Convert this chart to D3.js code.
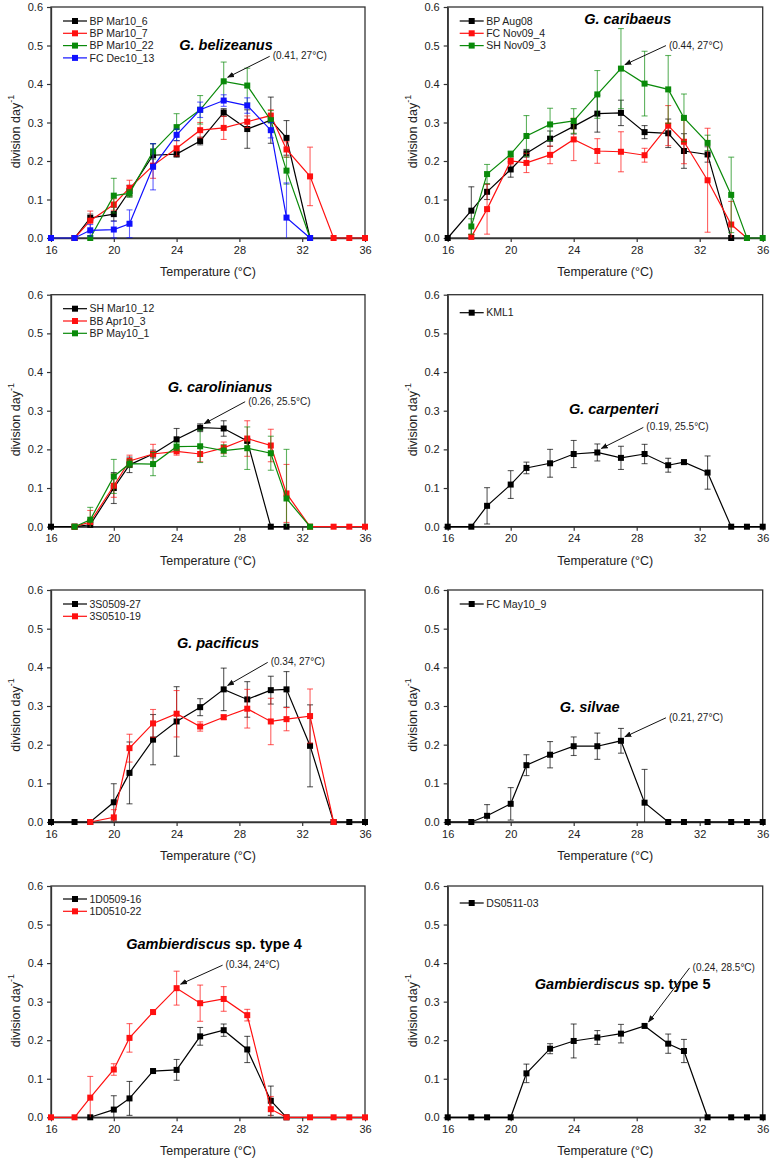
<!DOCTYPE html>
<html>
<head>
<meta charset="utf-8">
<script src="https://cdn.jsdelivr.net/npm/d3@7"></script>
<style>
  html, body { margin: 0; padding: 0; background: #fff; }
  svg { display: block; font-family: "Liberation Sans", Arial, sans-serif; }
</style>
</head>
<body>
<svg id="chart" width="771" height="1160"></svg>
<script>
// ---------- DATA ----------
const temps = [16, 17.5, 18.5, 20, 21, 22.5, 24, 25.5, 27, 28.5, 30, 31, 32.5, 34, 35, 36];
const xTicks = [16, 20, 24, 28, 32, 36];
const yTicks = [0, 0.1, 0.2, 0.3, 0.4, 0.5, 0.6];

// G. belizeanus
const bpMar10_6     = [null, 0, 0.052, 0.062, 0.122, 0.215, 0.218, 0.252, 0.326, 0.283, 0.306, 0.26, 0, null, null, null];
const bpMar10_6Err  = [null, 0, 0.01, 0.018, 0.015, 0.03, 0.008, 0.01, 0.01, 0.05, 0.06, 0.045, 0, null, null, null];
const bpMar10_7     = [null, 0, 0.045, 0.087, 0.13, 0.188, 0.233, 0.28, 0.286, 0.302, 0.318, 0.23, 0.16, 0, 0, 0];
const bpMar10_7Err  = [null, 0, 0.025, 0.015, 0.02, 0.033, 0.02, 0.02, 0.03, 0.015, 0.015, 0.02, 0.076, 0, 0, 0];
const bpMar10_22    = [null, null, 0, 0.11, 0.116, 0.225, 0.288, 0.333, 0.407, 0.396, 0.306, 0.175, 0, null, null, null];
const bpMar10_22Err = [null, null, 0, 0.045, 0.01, 0.02, 0.035, 0.037, 0.05, 0.045, 0.025, 0.035, 0, null, null, null];
const fcDec10_13    = [0, 0, 0.02, 0.022, 0.037, 0.185, 0.268, 0.333, 0.357, 0.344, 0.28, 0.053, 0, null, null, null];
const fcDec10_13Err = [0, 0, 0.015, 0.022, 0.036, 0.06, 0.015, 0.02, 0.015, 0.02, 0.02, 0.09, 0, null, null, null];

// G. caribaeus
const bpAug08       = [0, 0.071, 0.12, 0.178, 0.22, 0.258, 0.29, 0.323, 0.325, 0.275, 0.272, 0.226, 0.217, 0, null, null];
const bpAug08Err    = [0, 0.062, 0.02, 0.02, 0.01, 0.02, 0.02, 0.048, 0.033, 0.017, 0.037, 0.045, 0.02, 0, null, null];
const fcNov09_4     = [null, 0.003, 0.075, 0.2, 0.195, 0.216, 0.256, 0.226, 0.224, 0.215, 0.292, 0.25, 0.15, 0.035, 0, null];
const fcNov09_4Err  = [null, 0.003, 0.065, 0.01, 0.025, 0.023, 0.055, 0.032, 0.052, 0.018, 0.052, 0.057, 0.135, 0.06, 0, null];
const shNov09_3     = [null, 0.03, 0.166, 0.218, 0.265, 0.295, 0.304, 0.373, 0.44, 0.401, 0.386, 0.312, 0.247, 0.112, 0, 0];
const shNov09_3Err  = [null, 0.02, 0.025, 0.008, 0.053, 0.042, 0.032, 0.062, 0.104, 0.084, 0.088, 0.062, 0.02, 0.098, 0, 0];

// G. carolinianus
const shMar10_12    = [0, 0, 0.005, 0.1, 0.16, 0.188, 0.226, 0.256, 0.254, 0.222, 0, 0, null, null, null, null];
const shMar10_12Err = [0, 0, 0.01, 0.04, 0.02, 0.01, 0.028, 0.01, 0.02, 0.005, 0, 0, null, null, null, null];
const bbApr10_3     = [null, 0, 0.012, 0.106, 0.17, 0.188, 0.195, 0.188, 0.204, 0.228, 0.21, 0.086, 0, 0, 0, 0];
const bbApr10_3Err  = [null, 0, 0.03, 0.03, 0.015, 0.025, 0.01, 0.02, 0.015, 0.046, 0.042, 0.075, 0, 0, 0, 0];
const bpMay10_1     = [null, 0, 0.018, 0.13, 0.163, 0.162, 0.207, 0.208, 0.197, 0.203, 0.19, 0.073, 0, null, null, null];
const bpMay10_1Err  = [null, 0, 0.032, 0.044, 0.01, 0.03, 0.01, 0.042, 0.015, 0.055, 0.044, 0.127, 0, null, null, null];

// G. carpenteri
const kml1          = [0, 0, 0.054, 0.109, 0.152, 0.164, 0.188, 0.192, 0.178, 0.188, 0.159, 0.167, 0.14, 0, 0, 0];
const kml1Err       = [0, 0, 0.047, 0.036, 0.015, 0.036, 0.035, 0.022, 0.03, 0.025, 0.018, 0.005, 0.043, 0, 0, 0];

// G. pacificus
const s3S0509_27    = [0, 0, 0, 0.051, 0.127, 0.213, 0.26, 0.297, 0.343, 0.317, 0.341, 0.343, 0.197, 0, 0, 0];
const s3S0509_27Err = [0, 0, 0, 0.048, 0.08, 0.065, 0.09, 0.022, 0.055, 0.046, 0.036, 0.046, 0.106, 0, 0, 0];
const s3S0510_19    = [null, null, 0, 0.012, 0.191, 0.255, 0.28, 0.247, 0.271, 0.293, 0.26, 0.266, 0.274, 0, null, null];
const s3S0510_19Err = [null, null, 0, 0.02, 0.036, 0.036, 0.06, 0.012, 0.006, 0.05, 0.06, 0.03, 0.07, 0, null, null];

// G. silvae
const fcMay10_9     = [0, 0, 0.016, 0.047, 0.147, 0.174, 0.196, 0.196, 0.21, 0.05, 0, 0, 0, 0, 0, 0];
const fcMay10_9Err  = [0, 0, 0.029, 0.042, 0.027, 0.034, 0.024, 0.034, 0.032, 0.086, 0, 0, 0, 0, 0, 0];

// Gambierdiscus sp. type 4
const d1D0509_16    = [null, null, 0, 0.02, 0.049, 0.12, 0.123, 0.21, 0.226, 0.176, 0.043, 0, null, null, null, null];
const d1D0509_16Err = [null, null, 0, 0.036, 0.044, 0.005, 0.027, 0.023, 0.016, 0.034, 0.038, 0, null, null, null, null];
const d1D0510_22    = [0, 0, 0.051, 0.124, 0.206, 0.273, 0.335, 0.296, 0.307, 0.265, 0.021, 0, 0, 0, 0, 0];
const d1D0510_22Err = [0, 0, 0.055, 0.015, 0.037, 0.005, 0.044, 0.047, 0.032, 0.015, 0.033, 0, 0, 0, 0, 0];

// Gambierdiscus sp. type 5
const ds0511_03     = [0, 0, 0, 0, 0.114, 0.178, 0.198, 0.207, 0.217, 0.237, 0.191, 0.172, 0, 0, 0, 0];
const ds0511_03Err  = [0, 0, 0, 0, 0.024, 0.013, 0.044, 0.018, 0.024, 0.003, 0.025, 0.03, 0, 0, 0, 0];

// ---------- STYLE / LAYOUT ----------
const BLACK = "#000000", RED = "#ff1010", GREEN = "#0a8a0a", BLUE = "#1010ff";
const colX = [[51, 365], [447.7, 762.7]];
const rowY = [[7, 238], [294.7, 526.7], [590, 822], [886, 1117.3]];

const panels = [
  { row: 0, col: 0, title: [["G. belizeanus", "italic"]], tdx: 175, tdy: 43, legDy: 14,
    series: [
      { name: "BP Mar10_6", color: BLACK, v: bpMar10_6, e: bpMar10_6Err },
      { name: "BP Mar10_7", color: RED, v: bpMar10_7, e: bpMar10_7Err },
      { name: "BP Mar10_22", color: GREEN, v: bpMar10_22, e: bpMar10_22Err },
      { name: "FC Dec10_13", color: BLUE, v: fcDec10_13, e: fcDec10_13Err }],
    ann: { s: 2, t: 27, text: "(0.41, 27\u00B0C)", dx: 49, dy: -22 } },
  { row: 0, col: 1, title: [["G. caribaeus", "italic"]], tdx: 180, tdy: 17, legDy: 14,
    series: [
      { name: "BP Aug08", color: BLACK, v: bpAug08, e: bpAug08Err },
      { name: "FC Nov09_4", color: RED, v: fcNov09_4, e: fcNov09_4Err },
      { name: "SH Nov09_3", color: GREEN, v: shNov09_3, e: shNov09_3Err }],
    ann: { s: 2, t: 27, text: "(0.44, 27\u00B0C)", dx: 48, dy: -20 } },
  { row: 1, col: 0, title: [["G. carolinianus", "italic"]], tdx: 169, tdy: 97, legDy: 14,
    series: [
      { name: "SH Mar10_12", color: BLACK, v: shMar10_12, e: shMar10_12Err },
      { name: "BB Apr10_3", color: RED, v: bbApr10_3, e: bbApr10_3Err },
      { name: "BP May10_1", color: GREEN, v: bpMay10_1, e: bpMay10_1Err }],
    ann: { s: 0, t: 25.5, text: "(0.26, 25.5\u00B0C)", dx: 48, dy: -23 } },
  { row: 1, col: 1, title: [["G. carpenteri", "italic"]], tdx: 166, tdy: 119, legDy: 18,
    series: [
      { name: "KML1", color: BLACK, v: kml1, e: kml1Err }],
    ann: { s: 0, t: 25.5, text: "(0.19, 25.5\u00B0C)", dx: 49, dy: -22 } },
  { row: 2, col: 0, title: [["G. pacificus", "italic"]], tdx: 167, tdy: 58, legDy: 14,
    series: [
      { name: "3S0509-27", color: BLACK, v: s3S0509_27, e: s3S0509_27Err },
      { name: "3S0510-19", color: RED, v: s3S0510_19, e: s3S0510_19Err }],
    ann: { s: 0, t: 27, text: "(0.34, 27\u00B0C)", dx: 47, dy: -24 } },
  { row: 2, col: 1, title: [["G. silvae", "italic"]], tdx: 142, tdy: 122, legDy: 14,
    series: [
      { name: "FC May10_9", color: BLACK, v: fcMay10_9, e: fcMay10_9Err }],
    ann: { s: 0, t: 27, text: "(0.21, 27\u00B0C)", dx: 48, dy: -20 } },
  { row: 3, col: 0, title: [["Gambierdiscus", "italic"], [" sp. type 4", "normal"]], tdx: 163, tdy: 63, legDy: 13,
    series: [
      { name: "1D0509-16", color: BLACK, v: d1D0509_16, e: d1D0509_16Err },
      { name: "1D0510-22", color: RED, v: d1D0510_22, e: d1D0510_22Err }],
    ann: { s: 1, t: 24, text: "(0.34, 24\u00B0C)", dx: 49, dy: -20 } },
  { row: 3, col: 1, title: [["Gambierdiscus", "italic"], [" sp. type 5", "normal"]], tdx: 175, tdy: 103, legDy: 17,
    series: [
      { name: "DS0511-03", color: BLACK, v: ds0511_03, e: ds0511_03Err }],
    ann: { s: 0, t: 28.5, text: "(0.24, 28.5\u00B0C)", dx: 48, dy: -55 } }
];

// ---------- DRAW ----------
const svg = d3.select("#chart");
svg.append("rect").attr("width", 771).attr("height", 1160).attr("fill", "#fff");

const defs = svg.append("defs");
defs.append("marker").attr("id", "arrow")
  .attr("viewBox", "0 0 10 10").attr("refX", 9).attr("refY", 5)
  .attr("markerWidth", 7).attr("markerHeight", 7).attr("markerUnits", "userSpaceOnUse")
  .attr("orient", "auto")
  .append("path").attr("d", "M0,1 L10,5 L0,9 Z").attr("fill", "#111");

const MS = 6; // marker size
const CAP = 3;

panels.forEach(p => {
  const [x0, x1] = colX[p.col];
  const [yt, yb] = rowY[p.row];
  const x = d3.scaleLinear().domain([16, 36]).range([x0, x1]);
  const y = d3.scaleLinear().domain([0, 0.6]).range([yb, yt]);
  const g = svg.append("g");

  // frame
  g.append("rect").attr("x", x0).attr("y", yt).attr("width", x1 - x0).attr("height", yb - yt)
    .attr("fill", "none").attr("stroke", "#333").attr("stroke-width", 1.3);

  // axes
  const ax = g.append("g").attr("transform", `translate(0,${yb})`)
    .call(d3.axisBottom(x).tickValues(xTicks).tickFormat(d3.format("d")).tickSize(4).tickSizeOuter(0).tickPadding(4));
  const ay = g.append("g").attr("transform", `translate(${x0},0)`)
    .call(d3.axisLeft(y).tickValues(yTicks).tickFormat(d3.format(".1f")).tickSize(4).tickSizeOuter(0).tickPadding(4));
  [ax, ay].forEach(a => {
    a.select(".domain").attr("stroke", "#333").attr("stroke-width", 1.3);
    a.selectAll(".tick line").attr("stroke", "#333").attr("stroke-width", 1.2);
    a.selectAll(".tick text").attr("fill", "#222").style("font-size", "11px")
      .style("font-family", "'Liberation Sans', Arial, sans-serif");
  });

  // axis titles
  g.append("text").attr("x", (x0 + x1) / 2).attr("y", yb + 38)
    .attr("text-anchor", "middle").attr("fill", "#222").style("font-size", "12.5px")
    .text("Temperature (\u00B0C)");
  const yl = g.append("text")
    .attr("transform", `translate(${x0 - 31},${(yt + yb) / 2 + 9}) rotate(-90)`)
    .attr("text-anchor", "middle").attr("fill", "#222").style("font-size", "12.5px");
  yl.append("tspan").text("division day");
  yl.append("tspan").attr("dy", -6).style("font-size", "9px").text("-1");

  // series
  p.series.forEach(s => {
    const pts = temps.map((t, i) => ({ t, v: s.v[i], e: s.e[i] })).filter(d => d.v != null);
    const line = d3.line().x(d => x(d.t)).y(d => y(d.v));
    g.append("path").datum(pts).attr("d", line).attr("fill", "none")
      .attr("stroke", s.color).attr("stroke-width", 1.2);
    const eb = g.append("g").attr("stroke", s.color).attr("stroke-opacity", 0.65).attr("stroke-width", 1.1);
    pts.filter(d => d.e > 0.004).forEach(d => {
      const lo = Math.max(0, d.v - d.e), hi = Math.min(0.6, d.v + d.e);
      const cx = x(d.t);
      eb.append("line").attr("x1", cx).attr("x2", cx).attr("y1", y(lo)).attr("y2", y(hi));
      eb.append("line").attr("x1", cx - CAP).attr("x2", cx + CAP).attr("y1", y(hi)).attr("y2", y(hi));
      if (d.v - d.e >= 0) eb.append("line").attr("x1", cx - CAP).attr("x2", cx + CAP).attr("y1", y(lo)).attr("y2", y(lo));
    });
    g.append("g").selectAll("rect").data(pts).join("rect")
      .attr("x", d => x(d.t) - MS / 2).attr("y", d => y(d.v) - MS / 2)
      .attr("width", MS).attr("height", MS).attr("fill", s.color);
  });

  // legend
  p.series.forEach((s, i) => {
    const ly = yt + p.legDy + i * 12.3;
    g.append("line").attr("x1", x0 + 12).attr("x2", x0 + 36).attr("y1", ly).attr("y2", ly)
      .attr("stroke", s.color).attr("stroke-width", 1.2);
    g.append("rect").attr("x", x0 + 24 - MS / 2).attr("y", ly - MS / 2).attr("width", MS).attr("height", MS)
      .attr("fill", s.color);
    g.append("text").attr("x", x0 + 38.5).attr("y", ly).attr("dy", "0.36em")
      .attr("fill", "#222").style("font-size", "10.5px").text(s.name);
  });

  // title
  const tt = g.append("text").attr("x", x0 + p.tdx).attr("y", yt + p.tdy)
    .attr("text-anchor", "middle").attr("fill", "#000")
    .style("font-size", "14.5px").style("font-weight", "bold");
  p.title.forEach(([txt, st]) => tt.append("tspan").style("font-style", st).text(txt));

  // annotation
  const a = p.ann;
  const s = p.series[a.s];
  const av = s.v[temps.indexOf(a.t)];
  const px = x(a.t), py = y(av);
  const tx = px + a.dx, ty = py + a.dy;
  g.append("line").attr("x1", tx - 3).attr("y1", ty - 3).attr("x2", px + 4).attr("y2", py - 4)
    .attr("stroke", "#111").attr("stroke-width", 1).attr("marker-end", "url(#arrow)");
  g.append("text").attr("x", tx).attr("y", ty).attr("fill", "#222").style("font-size", "10px").text(a.text);
});
</script>
</body>
</html>
